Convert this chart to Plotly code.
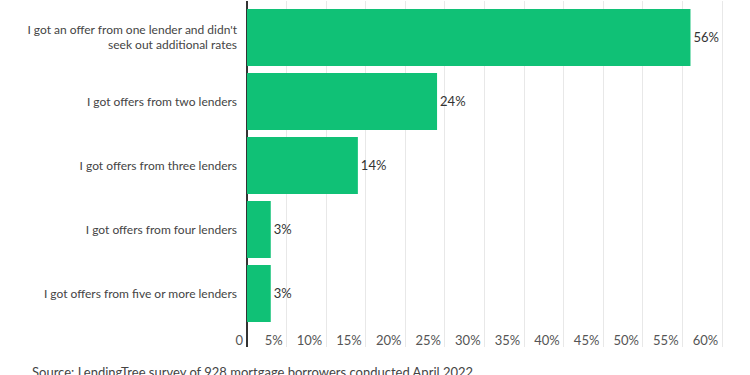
import plotly.graph_objects as go

categories = [
    "I got an offer from one lender and didn't<br>seek out additional rates",
    "I got offers from two lenders",
    "I got offers from three lenders",
    "I got offers from four lenders",
    "I got offers from five or more lenders",
]
values = [56, 24, 14, 3, 3]
value_labels = ["56%", "24%", "14%", "3%", "3%"]
x_tickvals = [0, 5, 10, 15, 20, 25, 30, 35, 40, 45, 50, 55, 60]
x_ticktext = ["0", "5%", "10%", "15%", "20%", "25%", "30%", "35%", "40%", "45%", "50%", "55%", "60%"]
source_text = "Source: LendingTree survey of 928 mortgage borrowers conducted April 2022"

positions = list(range(len(categories)))

fig = go.Figure(
    go.Bar(
        x=values,
        y=positions,
        orientation="h",
        marker=dict(color="#10c176", line=dict(width=0)),
        width=0.89,
        text=value_labels,
        textposition="outside",
        textfont=dict(family="Lato", size=13, color="#333333"),
        cliponaxis=False,
        hoverinfo="skip",
    )
)

fig.update_layout(
    width=750,
    height=375,
    margin=dict(l=247, r=12, t=1, b=28),
    paper_bgcolor="white",
    plot_bgcolor="white",
    font=dict(family="Lato", size=12, color="#444444"),
    showlegend=False,
    xaxis=dict(
        range=[0, 62],
        tickvals=x_tickvals,
        ticktext=x_ticktext,
        ticklabelposition="inside left",
        ticklabeloverflow="allow",
        ticklabelstandoff=-7,
        ticklabelshift=-4,
        tickfont=dict(family="Lato", size=13, color="#555555"),
        showgrid=True,
        gridcolor="#e8e8e8",
        gridwidth=1,
        zeroline=True,
        zerolinecolor="#333333",
        zerolinewidth=2,
        showline=False,
        ticks="",
    ),
    yaxis=dict(
        range=[4.836, -0.57],
        tickvals=positions,
        ticktext=categories,
        tickfont=dict(family="Lato", size=12, color="#444444"),
        showgrid=False,
        zeroline=False,
        showline=False,
        ticks="",
        ticklabelstandoff=9,
    ),
    annotations=[
        dict(
            text=source_text,
            xref="paper",
            yref="paper",
            x=(30 - 247) / (750 - 247 - 12),
            y=-25 / 346,
            xanchor="left",
            yanchor="middle",
            showarrow=False,
            font=dict(family="Lato", size=13, color="#444444"),
        )
    ],
)

fig.write_html(
    "out.html",
    config={"displayModeBar": False},
    post_script="document.body.style.margin='0';",
)
